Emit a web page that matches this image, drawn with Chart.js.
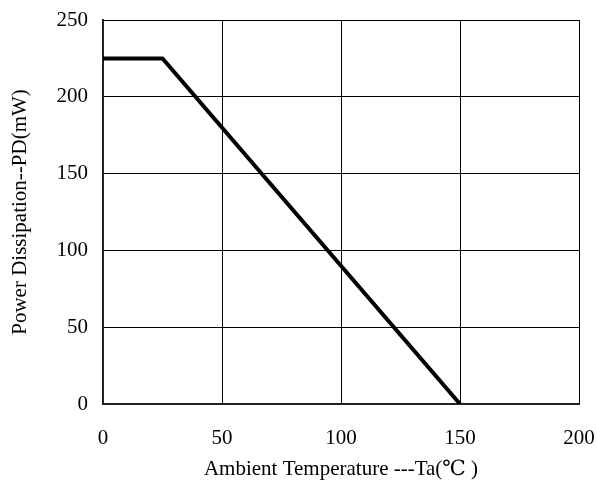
<!DOCTYPE html>
<html>
<head>
<meta charset="utf-8">
<script src="https://cdn.jsdelivr.net/npm/chart.js@4.4.1/dist/chart.umd.min.js"></script>
<style>
  html, body { margin: 0; padding: 0; background: #fff; }
  #wrap { width: 597px; height: 486px; }
</style>
</head>
<body>
<div id="wrap"><canvas id="chart" width="597" height="486"></canvas></div>
<script>
// derating curve
var tempX = [0, 25, 150];
var powerY = [225, 225, 0];
var xTicks = [0, 50, 100, 150, 200];
var yTicks = [0, 50, 100, 150, 200, 250];

var points = tempX.map(function(t, i) { return { x: t, y: powerY[i] }; });
var fontFamily = "'Liberation Serif', 'DejaVu Serif', serif";

var config = {
  type: 'scatter',
  data: {
    datasets: [{
      data: points,
      showLine: true,
      borderColor: '#000',
      borderWidth: 4,
      pointRadius: 0,
      borderJoinStyle: 'miter',
      fill: false
    }]
  },
  options: {
    responsive: false,
    animation: false,
    layout: { padding: { top: 20, right: 18, left: 4, bottom: 0 } },
    plugins: { legend: { display: false }, tooltip: { enabled: false } },
    scales: {
      x: {
        type: 'linear',
        min: 0, max: 200,
        afterBuildTicks: function(axis) { axis.ticks = xTicks.map(function(v) { return { value: v }; }); },
        afterFit: function(axis) { axis.height = 82; axis.paddingLeft = 0; axis.paddingRight = 0; },
        grid: { color: '#000', lineWidth: 1, drawTicks: false },
        border: { color: '#222', width: 2 },
        ticks: { color: '#000', padding: 22, maxRotation: 0, font: { family: fontFamily, size: 21 } },
        title: { display: true, text: 'Ambient Temperature ---Ta(\u2103 )', color: '#000', padding: { top: 0 },
                 font: { family: fontFamily, size: 21 } }
      },
      y: {
        type: 'linear',
        min: 0, max: 250,
        afterBuildTicks: function(axis) { axis.ticks = yTicks.map(function(v) { return { value: v }; }); },
        afterFit: function(axis) { axis.width = 99; axis.paddingTop = 0; axis.paddingBottom = 0; },
        grid: { color: '#000', lineWidth: 1, drawTicks: false },
        border: { color: '#222', width: 2 },
        ticks: { color: '#000', padding: 15, font: { family: fontFamily, size: 21 } },
        title: { display: true, text: 'Power Dissipation--PD(mW)', color: '#000', padding: { bottom: 8 },
                 font: { family: fontFamily, size: 21 } }
      }
    }
  }
};

new Chart(document.getElementById('chart'), config);
</script>
</body>
</html>
